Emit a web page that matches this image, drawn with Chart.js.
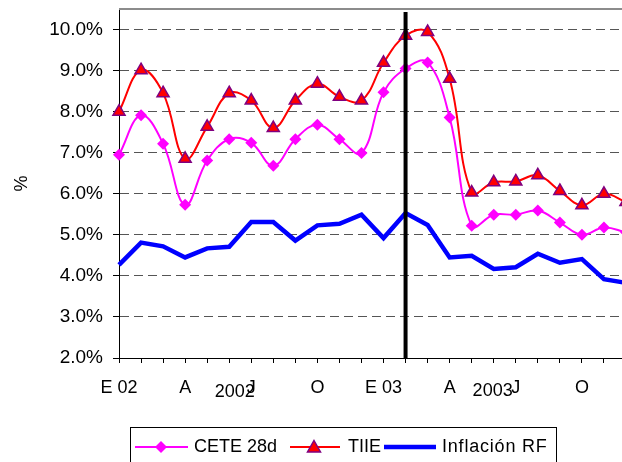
<!DOCTYPE html>
<html>
<head>
<meta charset="utf-8">
<script src="https://cdn.jsdelivr.net/npm/chart.js@4/dist/chart.umd.min.js"></script>
<style>
    html, body { margin: 0; padding: 0; background: #fff; overflow: hidden; }
    #wrap { width: 640px; height: 462px; }
</style>
</head>
<body>
<div id="wrap"><canvas id="chart" width="640" height="462"></canvas></div>
<script>
const monthLabels = ['E 02', '', '', 'A', '', '', 'J', '', '', 'O', '', '',
                     'E 03', '', '', 'A', '', '', 'J', '', '', 'O', '', ''];
const yearLabels = ['2002', '2003'];

const cete28d = [6.95, 7.91, 7.22, 5.73, 6.81, 7.33, 7.24, 6.68, 7.33, 7.68, 7.33, 6.99,
                 8.47, 9.05, 9.20, 7.86, 5.22, 5.49, 5.49, 5.59, 5.30, 5.00, 5.18, 5.06];
const tiie = [8.00, 9.01, 8.45, 6.85, 7.63, 8.45, 8.27, 7.60, 8.27, 8.68, 8.36, 8.27,
              9.19, 9.85, 9.94, 8.80, 6.03, 6.28, 6.30, 6.45, 6.07, 5.72, 6.00, 5.80];
const inflacionRF = [4.27, 4.81, 4.72, 4.45, 4.67, 4.71, 5.31, 5.31, 4.86, 5.23, 5.27, 5.49,
                     4.92, 5.53, 5.24, 4.45, 4.49, 4.17, 4.21, 4.54, 4.32, 4.41, 3.92, 3.83];

const markerIndex = 13; // linea vertical negra

const FONT = 'Arial, "Liberation Sans", sans-serif';

// marcas extra: borde superior, linea vertical, años y leyenda
const extras = {
    id: 'extras',
    afterDatasetsDraw(chart) {
        const {ctx, chartArea, scales: {x}} = chart;
        ctx.save();

        ctx.strokeStyle = '#8c8c8c';
        ctx.lineWidth = 2;
        ctx.beginPath();
        ctx.moveTo(chartArea.left, chartArea.top);
        ctx.lineTo(chartArea.right, chartArea.top);
        ctx.stroke();

        const vx = x.getPixelForValue(markerIndex);
        ctx.strokeStyle = '#000';
        ctx.lineWidth = 4;
        ctx.beginPath();
        ctx.moveTo(vx, chartArea.top + 3);
        ctx.lineTo(vx, chartArea.bottom);
        ctx.stroke();
        ctx.restore();
    },
    afterDraw(chart) {
        const {ctx, scales: {x}} = chart;
        ctx.save();
        ctx.fillStyle = '#000';
        ctx.font = '18px ' + FONT;
        ctx.textAlign = 'center';
        ctx.textBaseline = 'middle';
        ctx.fillText(yearLabels[0], x.getPixelForValue(5.25), 392);
        ctx.fillText(yearLabels[1], x.getPixelForValue(16.95), 391);

        // leyenda
        const top = 427.5, cy = 447;
        ctx.strokeStyle = '#000';
        ctx.lineWidth = 1;
        ctx.strokeRect(130.5, top, 426, 60);

        ctx.textAlign = 'left';
        const ds = chart.data.datasets;

        ctx.strokeStyle = ds[0].borderColor;
        ctx.lineWidth = 2;
        ctx.beginPath(); ctx.moveTo(135, cy); ctx.lineTo(188, cy); ctx.stroke();
        ctx.fillStyle = ds[0].pointBackgroundColor;
        ctx.beginPath();
        ctx.moveTo(161 - 6, cy); ctx.lineTo(161, cy - 6); ctx.lineTo(161 + 6, cy); ctx.lineTo(161, cy + 6);
        ctx.closePath(); ctx.fill();
        ctx.fillStyle = '#000';
        ctx.fillText(ds[0].label, 194, cy);

        ctx.strokeStyle = ds[1].borderColor;
        ctx.beginPath(); ctx.moveTo(290, cy); ctx.lineTo(340, cy); ctx.stroke();
        ctx.fillStyle = ds[1].pointBackgroundColor;
        ctx.strokeStyle = ds[1].pointBorderColor;
        ctx.lineWidth = 1.5;
        ctx.beginPath();
        ctx.moveTo(314, cy - 6.5); ctx.lineTo(320.5, cy + 5); ctx.lineTo(307.5, cy + 5);
        ctx.closePath(); ctx.fill(); ctx.stroke();
        ctx.fillStyle = '#000';
        ctx.fillText(ds[1].label, 348, cy);

        ctx.strokeStyle = ds[2].borderColor;
        ctx.lineWidth = 4.5;
        ctx.beginPath(); ctx.moveTo(384, cy); ctx.lineTo(436, cy); ctx.stroke();
        ctx.fillStyle = '#000';
        ctx.letterSpacing = '0.8px';
        ctx.fillText(ds[2].label, 442, cy);

        ctx.restore();
    }
};

new Chart(document.getElementById('chart'), {
    type: 'line',
    data: {
        labels: monthLabels,
        datasets: [
            {
                label: 'CETE 28d',
                data: cete28d,
                borderColor: '#ff00ff',
                borderWidth: 2,
                tension: 0.4,
                pointStyle: 'rectRot',
                pointRadius: 6,
                pointBackgroundColor: '#ff00ff',
                pointBorderColor: '#ff00ff',
                pointBorderWidth: 0
            },
            {
                label: 'TIIE',
                data: tiie,
                borderColor: '#ff0000',
                borderWidth: 2,
                tension: 0.4,
                pointStyle: 'triangle',
                pointRadius: 7,
                pointBackgroundColor: '#ff0000',
                pointBorderColor: '#800080',
                pointBorderWidth: 1.5
            },
            {
                label: 'Inflación RF',
                data: inflacionRF,
                borderColor: '#0000ff',
                borderWidth: 4.5,
                tension: 0,
                pointRadius: 0
            }
        ]
    },
    options: {
        responsive: false,
        animation: false,
        layout: { padding: { top: 9, right: 14, bottom: 0, left: 0 } },
        plugins: {
            legend: { display: false },
            tooltip: { enabled: false }
        },
        scales: {
            x: {
                type: 'category',
                offset: false,
                afterFit: s => { s.height = 104; },
                grid: { drawOnChartArea: false, tickLength: 5, tickColor: '#000', tickWidth: 1 },
                border: { color: '#000', width: 1 },
                ticks: {
                    autoSkip: false,
                    maxRotation: 0,
                    padding: 14,
                    color: '#000',
                    font: { family: FONT, size: 18 }
                }
            },
            y: {
                min: 2,
                max: 10.5,
                afterFit: s => { s.width = 119; s.paddingTop = 0; s.paddingBottom = 0; },
                afterBuildTicks: s => { s.ticks = s.ticks.filter(t => Number.isInteger(t.value)); },
                grid: {
                    color: c => (c.tick && c.tick.value === 2) ? 'rgba(0,0,0,0)' : '#555',
                    lineWidth: 1,
                    tickLength: 6,
                    tickColor: '#000',
                    tickWidth: 1
                },
                border: { color: '#000', width: 1, dash: [9, 5] },
                ticks: {
                    stepSize: 1,
                    includeBounds: false,
                    padding: 10,
                    color: '#000',
                    font: { family: FONT, size: 19 },
                    callback: v => v.toFixed(1) + '%'
                },
                title: {
                    display: true,
                    text: '%',
                    color: '#000',
                    font: { family: FONT, size: 18 },
                    padding: { top: 11, bottom: 0 }
                }
            }
        }
    },
    plugins: [extras]
});
</script>
</body>
</html>
